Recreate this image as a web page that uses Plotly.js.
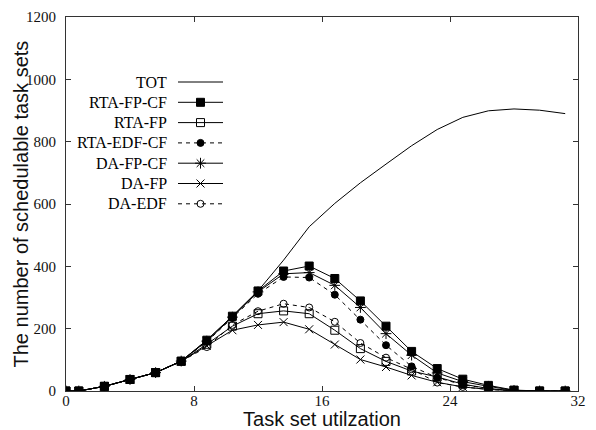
<!DOCTYPE html>
<html>
<head>
<meta charset="utf-8">
<script src="https://cdn.plot.ly/plotly-3.0.1.min.js"></script>
<style>html,body{margin:0;padding:0;background:#fff;}#chart{width:596px;height:430px;}</style>
</head>
<body>
<div id="chart"></div>
<script>
// ---- data ----
const xVals    = [0, 0.8, 2.4, 4, 5.6, 7.2, 8.8, 10.4, 12, 13.6, 15.2, 16.8, 18.4, 20, 21.6, 23.2, 24.8, 26.4, 28, 29.6, 31.2];
const tot      = [0, 0, 15, 37, 59, 96, 163, 240, 321, 420, 527, 602, 668, 728, 787, 839, 878, 899, 905, 901, 890];
const rtaFpCf  = [0, 0, 15, 37, 59, 96, 163, 240, 321, 385, 401, 361, 289, 208, 127, 72, 38, 18, 3, 0, 0];
const rtaFp    = [0, 0, 15, 37, 59, 95, 150, 208, 248, 257, 248, 195, 136, 95, 64, 45, 22, 8, 1, 0, 0];
const rtaEdfCf = [0, 0, 15, 37, 59, 96, 158, 235, 312, 366, 364, 309, 229, 147, 79, 43, 20, 8, 1, 0, 0];
const daFpCf   = [0, 0, 15, 37, 59, 96, 160, 237, 318, 376, 380, 339, 268, 184, 115, 58, 30, 15, 2, 0, 0];
const daFp     = [0, 0, 15, 37, 59, 95, 145, 195, 212, 221, 198, 149, 101, 77, 50, 28, 13, 5, 1, 0, 0];
const daEdf    = [0, 0, 15, 37, 59, 95, 141, 212, 256, 280, 268, 222, 154, 107, 70, 27, 13, 5, 1, 0, 0];
const seriesNames = ['TOT', 'RTA-FP-CF', 'RTA-FP', 'RTA-EDF-CF', 'DA-FP-CF', 'DA-FP', 'DA-EDF'];
const xTicks = [0, 8, 16, 24, 32];
const yTicks = [0, 200, 400, 600, 800, 1000, 1200];
const xTitle = 'Task set utilzation';
const yTitle = 'The number of schedulable task sets';

// ---- styles ----
const styles = [
  {dash: 'solid', symbol: null, size: 0},
  {dash: 'solid', symbol: 'square', size: 8},
  {dash: 'solid', symbol: 'square-open', size: 8},
  {dash: '4px,4px', symbol: 'circle', size: 7},
  {dash: 'solid', symbol: 'asterisk-open', size: 9},
  {dash: 'solid', symbol: 'x-thin-open', size: 8},
  {dash: '4px,4px', symbol: 'circle-open', size: 7}
];
const seriesData = [tot, rtaFpCf, rtaFp, rtaEdfCf, daFpCf, daFp, daEdf];

const traces = [];
seriesData.forEach((ys, i) => {
  const st = styles[i];
  const tr = {
    x: xVals, y: ys, name: seriesNames[i], type: 'scatter',
    mode: st.symbol ? 'lines+markers' : 'lines',
    line: {color: '#000', width: 1, dash: st.dash},
    showlegend: false, hoverinfo: 'skip'
  };
  if (st.symbol) tr.marker = {symbol: st.symbol, size: st.size, color: '#000', line: {color: '#000', width: 1}};
  traces.push(tr);
});

// ---- hand-made legend (gnuplot style: label left, sample right) on pixel-like overlay axes ----
const L = 66, T = 17, W = 512, H = 374;
const legRow0 = 82, legStep = 20.3;
const annotations = [];
seriesNames.forEach((nm, i) => {
  const st = styles[i];
  const yy = legRow0 + legStep * i - T;
  traces.push({x: [178 - L, 223 - L], y: [yy, yy], xaxis: 'x2', yaxis: 'y2', type: 'scatter', mode: 'lines',
    line: {color: '#000', width: 1, dash: st.dash}, showlegend: false, hoverinfo: 'skip'});
  if (st.symbol) {
    traces.push({x: [200.5 - L], y: [yy], xaxis: 'x2', yaxis: 'y2', type: 'scatter', mode: 'markers',
      marker: {symbol: st.symbol, size: st.size, color: '#000', line: {color: '#000', width: 1}},
      showlegend: false, hoverinfo: 'skip'});
  }
  annotations.push({x: 168.5 - L, y: yy, xref: 'x2', yref: 'y2', text: nm, showarrow: false,
    xanchor: 'right', yanchor: 'middle', font: {family: 'Liberation Serif, Times New Roman, serif', size: 16, color: '#000'}});
});

const tickFont = {family: 'Liberation Serif, Times New Roman, serif', size: 15, color: '#111'};
const titleFont = {family: 'Liberation Sans, Arial, sans-serif', size: 20, color: '#111'};

// y-axis title as a rotated annotation for precise placement
annotations.push({x: (20.5 - L) / W, y: 0.5, xref: 'paper', yref: 'paper', text: yTitle, textangle: -90,
  showarrow: false, xanchor: 'center', yanchor: 'middle', font: titleFont});

const layout = {
  width: 596, height: 430,
  margin: {l: L, r: 596 - L - W, t: T, b: 430 - T - H},
  paper_bgcolor: '#fff', plot_bgcolor: '#fff',
  showlegend: false,
  xaxis: {
    range: [0, 32], tickvals: xTicks, ticktext: xTicks.map(String),
    ticks: 'inside', ticklen: 5, tickcolor: '#333', tickwidth: 1,
    showline: true, linecolor: '#333', linewidth: 1, mirror: 'ticks',
    showgrid: false, zeroline: false, tickfont: tickFont, ticklabelstandoff: -4,
    ticklabeloverflow: 'allow',
    title: {text: xTitle, font: titleFont, standoff: 5}
  },
  yaxis: {
    range: [0, 1200], tickvals: yTicks, ticktext: yTicks.map(String),
    ticks: 'inside', ticklen: 5, tickcolor: '#333', tickwidth: 1,
    showline: true, linecolor: '#333', linewidth: 1, mirror: 'ticks',
    showgrid: false, zeroline: false, tickfont: tickFont, ticklabelstandoff: 6
  },
  xaxis2: {range: [0, W], overlaying: 'x', visible: false, fixedrange: true},
  yaxis2: {range: [H, 0], overlaying: 'y', visible: false, fixedrange: true},
  annotations: annotations
};

Plotly.newPlot('chart', traces, layout, {displayModeBar: false, staticPlot: true});
</script>
</body>
</html>
